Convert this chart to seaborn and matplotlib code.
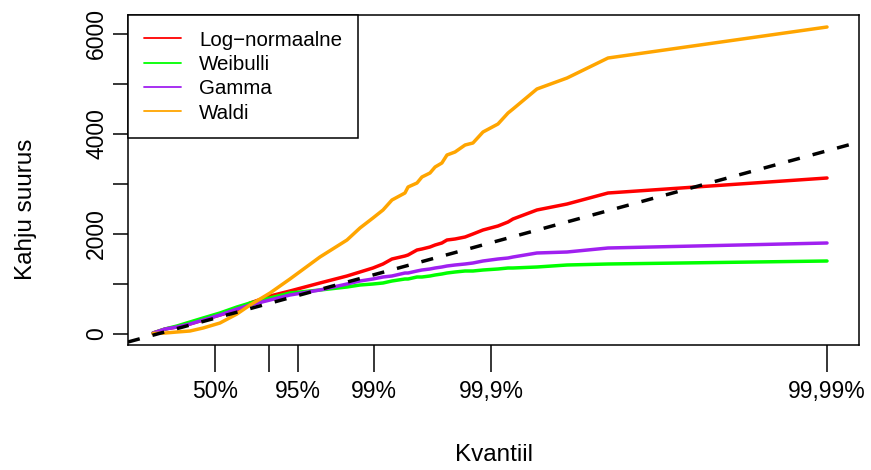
import numpy as np
import pandas as pd
import matplotlib
matplotlib.use("Agg")
import matplotlib.pyplot as plt
import seaborn as sns

# Empirical loss quantiles (x) and fitted-distribution quantiles (y)
kvantiil = [0, 66, 131, 202, 274, 366, 459, 531, 640, 749, 913, 1061, 1132,
            1203, 1258, 1307, 1378, 1395, 1444, 1471, 1515, 1543, 1580, 1608,
            1652, 1707, 1750, 1805, 1887, 1942, 1969, 2100, 2265, 2489, 3687]

log_normaalne = [10, 90, 130, 190, 270, 370, 470, 610, 750, 850, 1010, 1150,
                 1230, 1310, 1390, 1490, 1550, 1570, 1670, 1690, 1730, 1770,
                 1810, 1870, 1890, 1930, 1990, 2070, 2150, 2230, 2290, 2470,
                 2590, 2810, 3110]
weibulli = [10, 90, 150, 230, 310, 410, 530, 610, 710, 810, 870, 930, 970,
            990, 1010, 1050, 1090, 1090, 1130, 1130, 1150, 1170, 1190, 1210,
            1230, 1250, 1250, 1270, 1290, 1310, 1310, 1330, 1370, 1390, 1450]
gamma = [10, 90, 130, 190, 270, 370, 490, 570, 670, 770, 870, 990, 1050,
         1090, 1130, 1150, 1210, 1210, 1250, 1270, 1290, 1310, 1330, 1350,
         1370, 1390, 1410, 1450, 1490, 1510, 1530, 1610, 1630, 1710, 1810]
waldi = [0, 10, 30, 50, 110, 210, 390, 570, 810, 1090, 1530, 1870, 2110,
         2310, 2470, 2670, 2810, 2930, 3010, 3130, 3210, 3330, 3410, 3570,
         3630, 3770, 3810, 4030, 4190, 4410, 4490, 4890, 5110, 5510, 6130]

jaotused = ["Log\u2212normaalne", "Weibulli", "Gamma", "Waldi"]
varvid = ["#FF0000", "#00FF00", "#A020F0", "#FFA500"]

# Quantile levels marked on the x axis
tase_pos = [339, 635, 793, 1209, 1849, 3687]
tase_sildid = ["50%", "", "95%", "99%", "99,9%", "99,99%"]

y_ticks = [0, 1000, 2000, 3000, 4000, 5000, 6000]
y_sildid = ["0", "", "2000", "", "4000", "", "6000"]

# reference line y = x + b
viide_vabaliige = -33

df = pd.DataFrame({
    "kvantiil": kvantiil * 4,
    "kahju": log_normaalne + weibulli + gamma + waldi,
    "jaotus": np.repeat(jaotused, len(kvantiil)),
})

sns.set_style("white")
plt.rcParams["font.family"] = ["Liberation Sans", "DejaVu Sans"]
plt.rcParams["text.color"] = "black"
plt.rcParams["axes.labelcolor"] = "black"
plt.rcParams["xtick.color"] = "black"
plt.rcParams["ytick.color"] = "black"

fig = plt.figure(figsize=(8.71, 4.70), dpi=100)
ax = fig.add_axes([128 / 871, 1 - 345 / 470, 731 / 871, 330 / 470])

sns.lineplot(data=df, x="kvantiil", y="kahju", hue="jaotus",
             hue_order=jaotused, palette=varvid, sort=False,
             estimator=None, linewidth=2.5, ax=ax, zorder=2)

ax.axline((0, viide_vabaliige), slope=1, color="black", linewidth=2.5,
          linestyle=(0, (3.5, 3.8)), zorder=3)

ax.set_xlim(-137, 3862)
ax.set_ylim(-230, 6370)

ax.set_xticks(tase_pos)
ax.set_xticklabels(tase_sildid, fontsize=16.5, color="black")
ax.set_yticks(y_ticks)
ax.set_yticklabels(y_sildid, fontsize=16.5, rotation=90, va="center",
                   color="black")

ax.tick_params(axis="x", direction="out", length=19.5, width=1.1,
               pad=5.5, colors="black", bottom=True)
ax.tick_params(axis="y", direction="out", length=10.8, width=1.1,
               pad=3.6, colors="black", left=True)

for s in ax.spines.values():
    s.set_visible(True)
    s.set_color("black")
    s.set_linewidth(1.1)

ax.set_xlabel("Kvantiil", fontsize=17.5, va="center", color="black")
ax.set_ylabel("Kahju suurus", fontsize=17.5, va="center", color="black")
ax.xaxis.set_label_coords(0.5, -0.333)
ax.yaxis.set_label_coords(-0.1395, 0.41)

handles, labels = ax.get_legend_handles_labels()
leg = ax.legend(handles, labels, loc="upper left", fontsize=14.8,
                frameon=True, fancybox=False, framealpha=1,
                edgecolor="black", borderaxespad=0, handlelength=1.8,
                handletextpad=0.9, labelspacing=0.26, borderpad=0.76)
leg.get_frame().set_linewidth(1.1)
for t in leg.get_texts():
    t.set_color("black")
for ln in leg.get_lines():
    ln.set_linewidth(1.3)

fig.savefig("out.png", dpi=100)
